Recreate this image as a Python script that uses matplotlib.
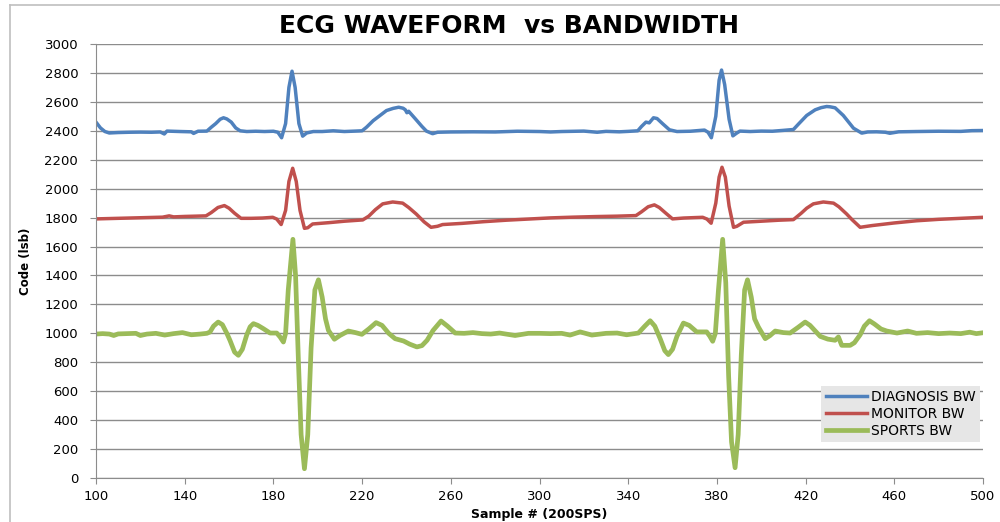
import matplotlib
matplotlib.use('Agg')
import matplotlib.pyplot as plt
from matplotlib.lines import Line2D

# ---- data ----
diag_x = [100, 102, 104, 106, 110, 115, 120, 125, 129, 130.8, 132, 138, 143, 144, 146, 150,
          152, 154, 156, 157.5, 159, 161, 163, 165, 168, 172, 176, 180, 182, 183.7, 185.5,
          187, 188.4, 189.8, 191.5, 193.2, 195, 198, 202, 207, 212, 217, 220, 222, 225, 228,
          231, 234, 236.5, 238.5, 239.5, 240.2, 241, 244, 247, 249, 251.8, 254, 260, 270,
          280, 290, 300, 305, 310, 320, 326, 330, 336, 340, 344.3, 346, 348, 349.5, 351.4,
          353, 355.6, 358.6, 362, 368, 374.4, 376, 377.5, 379.5, 381, 382.1, 383.5, 385.5,
          387.2, 389, 390.4, 395, 400, 405, 410, 414.5, 417, 420.5, 424.3, 427, 429.5, 431,
          433.3, 437, 441.6, 445.3, 448, 452, 456, 458, 462, 470, 480, 490, 495, 500]
diag_y = [2460, 2420, 2395, 2385, 2388, 2390, 2391, 2390, 2392, 2378, 2398, 2395, 2393, 2382, 2397, 2398,
          2425, 2450, 2480, 2490, 2482, 2460, 2420, 2400, 2395, 2397, 2395, 2397, 2390, 2352, 2450,
          2700, 2812, 2700, 2450, 2363, 2385, 2395, 2395, 2400, 2395, 2398, 2400, 2425, 2470, 2505,
          2540, 2555, 2563, 2556, 2545, 2525, 2535, 2483, 2430, 2398, 2380, 2390, 2392, 2393,
          2392, 2397, 2395, 2392, 2395, 2398, 2390, 2396, 2393, 2396, 2400, 2430, 2460, 2455, 2490,
          2485, 2448, 2407, 2395, 2397, 2405, 2390, 2352, 2500, 2750, 2820, 2720, 2480,
          2365, 2385, 2398, 2395, 2398, 2397, 2403, 2409, 2450, 2506, 2545, 2560, 2568, 2566,
          2559, 2506, 2418, 2384, 2392, 2393, 2390, 2383, 2393, 2395, 2397, 2396, 2401, 2402]

mon_x = [100, 110, 120, 130, 133, 135, 140, 145, 149.6, 152, 155, 157.9, 160, 162.5, 165.4, 170,
         175, 179.7, 181.5, 183.5, 185.5, 187, 188.7, 190.3, 192, 194, 195.5, 197.7, 205, 212,
         220.3, 223, 226, 229.3, 233.8, 238.3, 241, 244.4, 248, 251.1, 254, 256.3, 265, 275,
         285, 295, 305, 315, 325, 335, 343.5, 346, 349, 351.8, 354, 357, 360, 365, 370, 373.6,
         375.5, 377.4, 379.5, 381, 382.3, 383.8, 385.5, 387.5, 389, 392, 400, 408, 414.5, 418,
         420.5, 423.5, 428, 432.6, 435, 438.5, 441, 444.6, 450, 460, 470, 480, 490, 500]
mon_y = [1791, 1795, 1799, 1803, 1812, 1805, 1808, 1810, 1812, 1835, 1870, 1883, 1865, 1830, 1795, 1795,
         1797, 1802, 1790, 1752, 1850, 2050, 2141, 2050, 1850, 1726, 1730, 1756, 1765, 1775,
         1784, 1810, 1855, 1895, 1908, 1900, 1870, 1825, 1770, 1733, 1740, 1752, 1760, 1772,
         1782, 1790, 1798, 1803, 1807, 1810, 1814, 1840, 1875, 1888, 1870, 1830, 1791, 1797, 1800, 1802,
         1790, 1761, 1900, 2080, 2148, 2080, 1880, 1733, 1740, 1768, 1775, 1782, 1786, 1830,
         1865, 1895, 1908, 1900, 1875, 1825, 1785, 1733, 1745, 1763, 1778, 1788, 1795, 1802]

sport_x = [100, 103, 106, 108, 110, 114, 118, 120, 123, 127, 131, 135, 139, 143, 147, 150, 151.4,
           153, 155.1, 157, 159, 160.4, 162.5, 164.2, 166, 168, 169.5, 171, 173, 175.5, 178.5,
           181.5, 183, 184.5, 185.5, 186.7, 188.8, 190, 191.3, 192.5, 194, 195.5, 197, 198.7,
           200.3, 202, 203.5, 204.8, 207.5, 210, 213.8, 217, 219.9, 223, 226.3, 229, 232, 234.9,
           238.7, 241.5, 244.7, 247, 249.3, 252, 255.6, 258.5, 262, 266, 270, 274, 278, 282,
           285, 289, 295, 300, 305, 310, 313.8, 318.3, 323.6, 330, 335, 339.3, 344.6, 347.5,
           349.9, 352, 354.5, 356.5, 358.1, 360, 362, 364.9, 367.5, 370.9, 375.4, 376.8, 378.1,
           379.3, 380.7, 382.6, 384, 385.3, 386.6, 388.2, 389.6, 391, 392.5, 393.8, 395.5, 397,
           398.7, 401.8, 404, 406.3, 410, 413, 416.5, 419.8, 422, 426.6, 430, 433.3, 434.8,
           436.3, 440.1, 442, 444.6, 446.5, 448.8, 451, 454, 456.6, 461.2, 466, 470, 475, 480,
           485, 490, 494, 497, 500]
sport_y = [995, 998, 995, 985, 996, 998, 1000, 985, 995, 1000, 988, 998, 1005, 990, 995, 1000, 1009,
           1050, 1078, 1060, 1000, 952, 870, 848, 890, 990, 1045, 1067, 1055, 1032, 1002,
           1002, 975, 940, 1000, 1300, 1650, 1400, 800, 300, 64, 300, 900, 1300,
           1370, 1250, 1100, 1021, 959, 985, 1016, 1005, 993, 1030, 1074, 1055, 1000, 963,
           947, 925, 906, 915, 952, 1020, 1085, 1050, 1002, 1000, 1005, 998, 995, 1002,
           995, 985, 1000, 1000, 998, 1000, 988, 1010, 988, 1000, 1002, 990, 1002, 1050,
           1087, 1050, 960, 880, 853, 890, 980, 1071, 1055, 1010, 1010, 980, 945,
           1000, 1300, 1650, 1350, 700, 250, 71, 300, 850, 1300, 1370, 1250, 1100,
           1044, 963, 985, 1016, 1005, 1002, 1040, 1078, 1055, 979, 960, 952, 975,
           917, 917, 935, 990, 1050, 1087, 1065, 1030, 1016, 1002, 1016, 1000, 1005, 998,
           1002, 998, 1008, 998, 1004]

x_ticks = [100, 140, 180, 220, 260, 300, 340, 380, 420, 460, 500]
y_ticks = [0, 200, 400, 600, 800, 1000, 1200, 1400, 1600, 1800, 2000, 2200, 2400, 2600, 2800, 3000]

fig = plt.figure(figsize=(10, 5.22), dpi=100)
ax = fig.add_axes([0.096, 0.0843, 0.887, 0.8314])

ax.plot(diag_x, diag_y, color='#4F81BD', linewidth=2.5, label='DIAGNOSIS BW', solid_joinstyle='round')
ax.plot(mon_x, mon_y, color='#C0504D', linewidth=2.5, label='MONITOR BW', solid_joinstyle='round')
ax.plot(sport_x, sport_y, color='#9BBB59', linewidth=3.4, label='SPORTS BW', solid_joinstyle='round')

ax.set_xlim(100, 500)
ax.set_ylim(0, 3000)
ax.set_xticks(x_ticks)
ax.set_yticks(y_ticks)
ax.grid(axis='y', color='#8c8c8c', linewidth=1.0)
ax.set_axisbelow(True)
for s in ['top', 'right']:
    ax.spines[s].set_visible(False)
for s in ['left', 'bottom']:
    ax.spines[s].set_color('#8c8c8c')
ax.tick_params(axis='y', direction='out', length=4.3, color='#8c8c8c', labelsize=9.5, pad=8.5)
ax.tick_params(axis='x', direction='out', length=4.3, color='#8c8c8c', labelsize=9.5, pad=4)

ax.set_xlabel('Sample # (200SPS)', fontsize=9, fontweight='bold')
ax.set_ylabel('Code (lsb)', fontsize=8.5, fontweight='bold')
ax.xaxis.set_label_coords(0.5, -0.070)
ax.yaxis.set_label_coords(-0.072, 0.5)

fig.text(0.509, 1 - 26 / 522, 'ECG WAVEFORM  vs BANDWIDTH', fontsize=18, fontweight='bold',
         ha='center', va='center')

leg = ax.legend(loc='upper right', bbox_to_anchor=(0.997, 0.212), fontsize=10, frameon=True,
                fancybox=False, framealpha=1, handlelength=3.0, handletextpad=0.3,
                labelspacing=0.2, borderpad=0.3, borderaxespad=0)
leg.get_frame().set_facecolor('#e6e6e6')
leg.get_frame().set_linewidth(0)

# outer chart border (left and top visible in the reference)
fig.add_artist(Line2D([0.010, 0.010], [0, 1 - 5 / 522], color='#bfbfbf', linewidth=1.2, transform=fig.transFigure))
fig.add_artist(Line2D([0.010, 1.0], [1 - 5 / 522, 1 - 5 / 522], color='#bfbfbf', linewidth=1.2, transform=fig.transFigure))

fig.savefig('out.png', dpi=100)
